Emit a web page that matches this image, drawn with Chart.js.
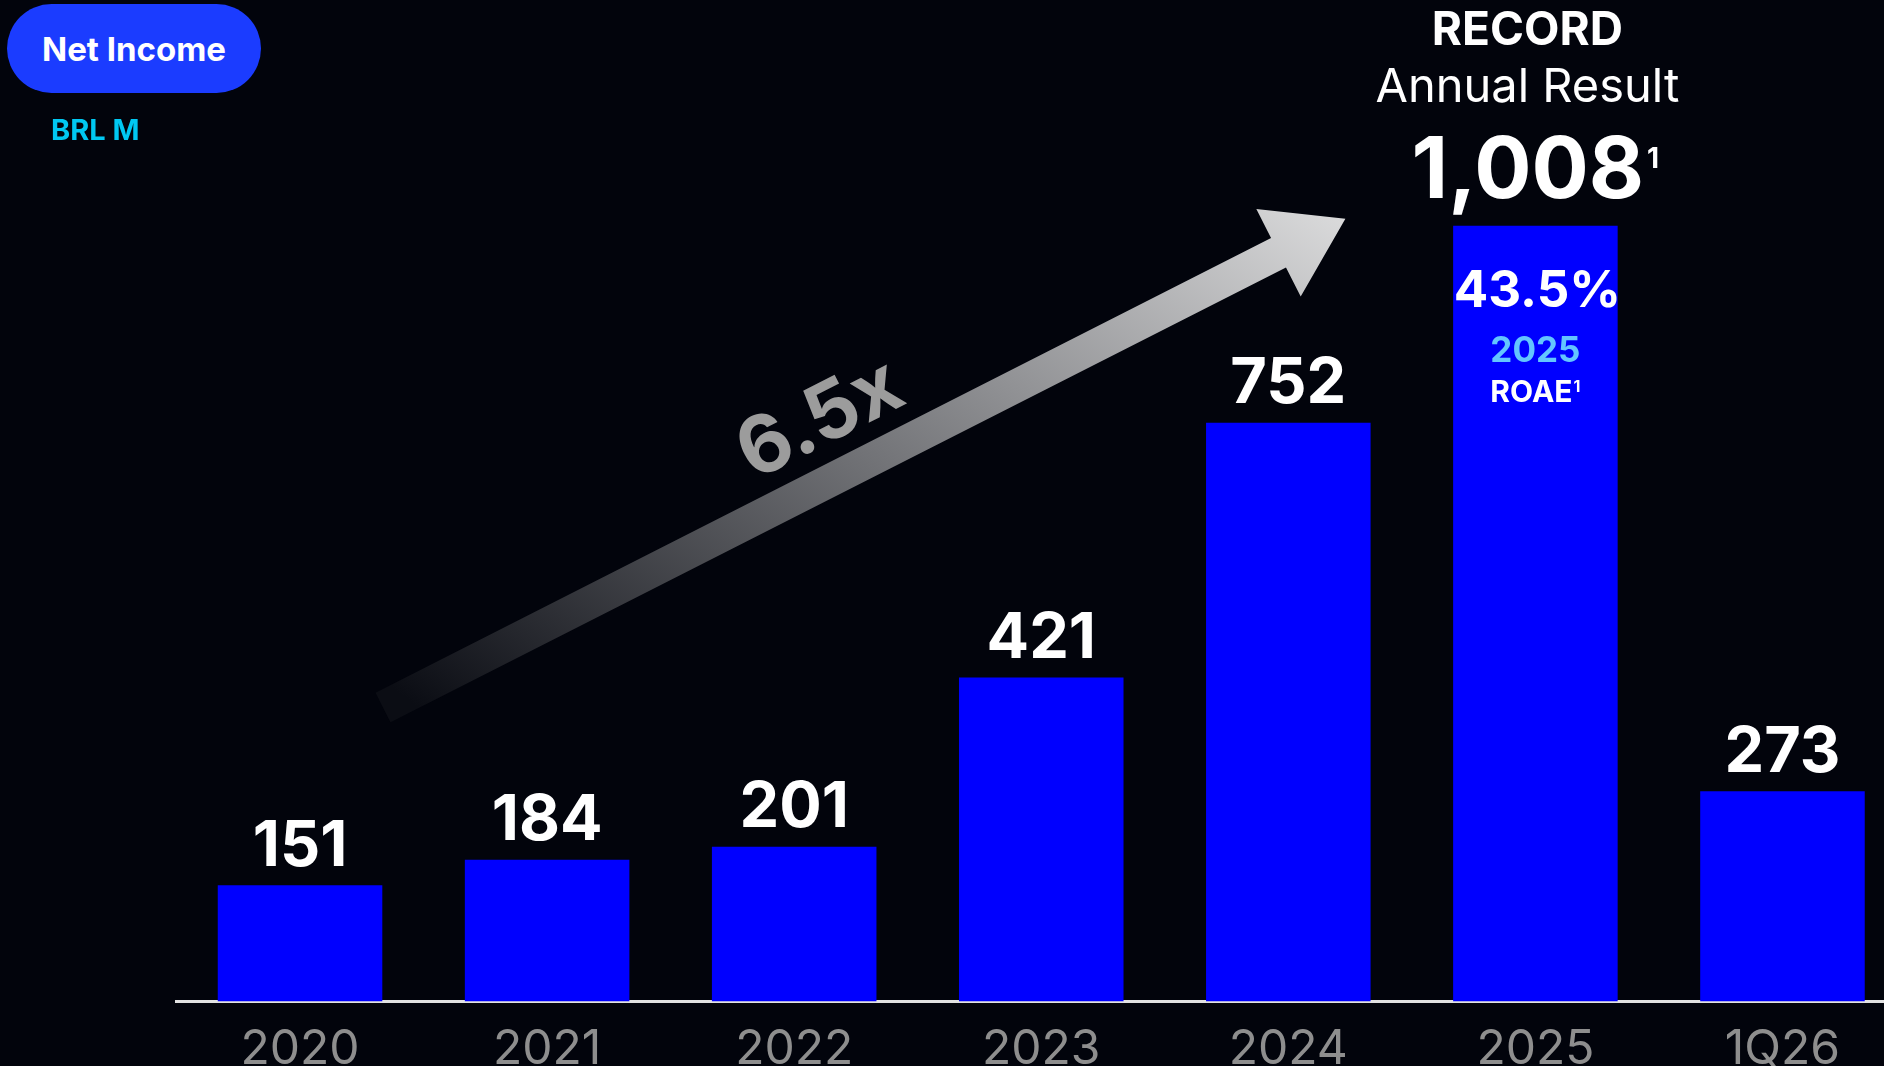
<!DOCTYPE html>
<html>
<head>
<meta charset="utf-8">
<script src="https://cdn.jsdelivr.net/npm/chart.js@4.4.1/dist/chart.umd.min.js"></script>
<style>
  html, body { margin:0; padding:0; background:#02040c; overflow:hidden; width:1884px; height:1066px; }
  #wrap { position:absolute; left:0; top:0; width:1910px; height:1097px; }
  canvas { display:block; }
  .pill { position:absolute; left:7px; top:4px; width:254px; height:89px; border-radius:44.5px;
          background:#1b3cff; color:#fff; font:700 33px Inter, sans-serif; display:flex;
          align-items:center; justify-content:center; z-index:2; }
  .unit { position:absolute; left:51px; top:115px; font:700 29px Inter, sans-serif; line-height:1;
          color:#00c8f2; z-index:2; }
</style>
</head>
<body>
<div class="pill">Net Income</div>
<div class="unit">BRL M</div>
<div id="wrap"><canvas id="c" width="1910" height="1097"></canvas></div>
<script>
// ---- data ----
const categories = ['2020', '2021', '2022', '2023', '2024', '2025', '1Q26'];
const netIncome = [151, 184, 201, 421, 752, 1008, 273];
const valueLabels = ['151', '184', '201', '421', '752', '1,008', '273'];
const highlightIndex = 5;
const highlightTitle = 'RECORD';
const highlightSubtitle = 'Annual Result';
const highlightFootnote = '1';
const roaeValue = '43.5%';
const roaeYear = '2025';
const roaeLabel = 'ROAE';
const growthLabel = '6.5x';
// arrow anchors in data space: [category index, value]
const arrowFrom = [0.336, 382];
const arrowTo = [4.231, 1017];

const FONT = 'Inter, sans-serif';

function supText(ctx, cx, baseline, main, mainFont, sup, supFont, rise, gap) {
  ctx.font = mainFont; const w1 = ctx.measureText(main).width;
  ctx.font = supFont; const w2 = ctx.measureText(sup).width;
  const left = cx - (w1 + gap + w2) / 2;
  ctx.textAlign = 'left';
  ctx.font = mainFont; ctx.fillText(main, left, baseline);
  ctx.font = supFont; ctx.fillText(sup, left + w1 + gap, baseline - rise);
}

const annotations = {
  id: 'annotations',
  beforeDatasetsDraw(chart) {
    const ctx = chart.ctx, xs = chart.scales.x, ys = chart.scales.y;
    const x0 = xs.getPixelForValue(arrowFrom[0]), y0 = ys.getPixelForValue(arrowFrom[1]);
    const x1 = xs.getPixelForValue(arrowTo[0]), y1 = ys.getPixelForValue(arrowTo[1]);
    const L = Math.hypot(x1 - x0, y1 - y0), ang = Math.atan2(y1 - y0, x1 - x0);
    const headLen = 75, headHW = 49, hw = 16.5;
    ctx.save();
    const g = ctx.createLinearGradient(x0, y0, x1, y1);
    g.addColorStop(0, '#0b0d14');
    g.addColorStop(1, '#f8f8f8');
    ctx.translate(x0, y0);
    ctx.rotate(ang);
    ctx.beginPath();
    ctx.moveTo(0, -hw);
    ctx.lineTo(L - headLen, -hw);
    ctx.lineTo(L - headLen, -headHW);
    ctx.lineTo(L, 0);
    ctx.lineTo(L - headLen, headHW);
    ctx.lineTo(L - headLen, hw);
    ctx.lineTo(0, hw);
    ctx.closePath();
    ctx.setTransform(1, 0, 0, 1, 0, 0);
    ctx.fillStyle = g;
    ctx.translate(x0, y0);
    ctx.rotate(ang);
    ctx.fill();
    ctx.fillStyle = '#9c9c9c';
    ctx.font = '700 80px ' + FONT;
    ctx.textAlign = 'center';
    ctx.textBaseline = 'alphabetic';
    ctx.fillText(growthLabel, 520, -34);
    ctx.restore();
  },
  afterDatasetsDraw(chart) {
    const ctx = chart.ctx;
    const bars = chart.getDatasetMeta(0).data;
    ctx.save();
    ctx.fillStyle = '#ffffff';
    ctx.textBaseline = 'alphabetic';
    bars.forEach((b, i) => {
      if (i === highlightIndex) return;
      ctx.font = '700 63px ' + FONT;
      ctx.textAlign = 'center';
      ctx.fillText(valueLabels[i], b.x, b.y - 19.5);
    });
    const b = bars[highlightIndex];
    // above the bar
    ctx.textAlign = 'center';
    ctx.font = '700 46px ' + FONT;
    ctx.fillText(highlightTitle, b.x - 8, b.y - 181);
    ctx.font = '400 47px ' + FONT;
    ctx.fillText(highlightSubtitle, b.x - 8, b.y - 124);
    supText(ctx, b.x, b.y - 27.5, valueLabels[highlightIndex], '700 85px ' + FONT,
            highlightFootnote, '700 28px ' + FONT, 30, 3);
    // inside the bar
    ctx.textAlign = 'center';
    ctx.font = '700 51px ' + FONT;
    ctx.fillText(roaeValue, b.x + 2, b.y + 81);
    ctx.fillStyle = '#63c5ff';
    ctx.font = '700 35px ' + FONT;
    ctx.fillText(roaeYear, b.x, b.y + 136);
    ctx.fillStyle = '#ffffff';
    supText(ctx, b.x, b.y + 176, roaeLabel, '700 30px ' + FONT, highlightFootnote, '700 16px ' + FONT, 10, 1);
    ctx.restore();
  }
};

new Chart(document.getElementById('c'), {
  type: 'bar',
  data: {
    labels: categories,
    datasets: [{
      data: netIncome,
      backgroundColor: '#0000ff',
      borderWidth: 0,
      categoryPercentage: 1,
      barPercentage: 0.666
    }]
  },
  options: {
    responsive: false,
    animation: false,
    devicePixelRatio: 1,
    layout: { padding: { left: 176.5, right: 4, top: 78, bottom: 0 } },
    plugins: { legend: { display: false }, tooltip: { enabled: false } },
    scales: {
      x: {
        grid: { display: false, drawTicks: false },
        border: { display: true, color: '#e2e2e2', width: 3 },
        ticks: { color: '#8e8e8e', padding: 19, font: { family: FONT, size: 48, weight: '400', lineHeight: 1.2 } }
      },
      y: {
        display: false,
        min: 0,
        max: 1200
      }
    }
  },
  plugins: [annotations]
});
</script>
</body>
</html>
